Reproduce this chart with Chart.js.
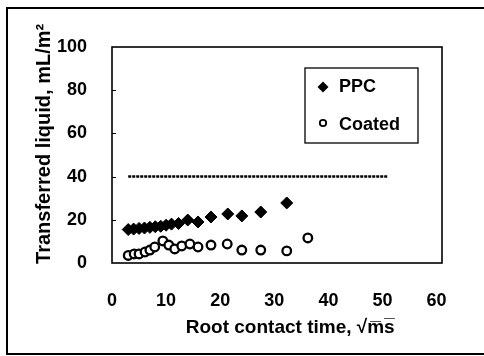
<!DOCTYPE html>
<html><head><meta charset="utf-8">
<script src="https://cdn.jsdelivr.net/npm/chart.js@4.4.0/dist/chart.umd.min.js"></script>
<style>html,body{margin:0;padding:0;background:#fff}#wrap{width:484px;height:356px;position:relative}</style>
</head><body><div id="wrap"><canvas id="c" width="484" height="356"></canvas></div>
<script>
const ppcX = [3.0, 4.0, 5.0, 6.0, 7.0, 8.0, 9.0, 10.0, 11.0, 12.3, 14.0, 15.9, 18.3, 21.4, 24.0, 27.5, 32.3];
const ppcY = [15.5, 15.7, 16.0, 16.2, 16.5, 16.8, 17.0, 17.5, 18.0, 18.3, 19.9, 19.0, 21.3, 22.7, 21.8, 23.6, 27.8];
const coatedX = [3.0, 4.1, 5.0, 6.1, 7.0, 7.9, 9.4, 10.5, 11.6, 12.9, 14.4, 15.9, 18.3, 21.3, 24.0, 27.5, 32.3, 36.2];
const coatedY = [3.5, 4.2, 4.2, 5.1, 6.0, 7.4, 10.2, 8.3, 6.5, 7.9, 8.8, 7.4, 8.3, 8.8, 6.0, 6.0, 5.6, 11.6];
const refLineX = [3, 51];
const refLineY = [40, 40];
const xTicks = [0, 10, 20, 30, 40, 50, 60];
const yTicks = [0, 20, 40, 60, 80, 100];
const seriesNames = ['PPC', 'Coated'];
const xTitle = '     Root contact time, \u221Am\u0305s\u0305';
const yTitle = '    Transferred liquid, mL/m\u00B2';

const FONT = "'Liberation Sans', Arial, Helvetica, sans-serif";
const pts = (xs, ys) => xs.map((x, i) => ({x, y: ys[i]}));

const framePlugin = {
  id: 'frame',
  beforeDraw(chart) {
    const ctx = chart.ctx;
    ctx.save();
    ctx.fillStyle = '#fff';
    ctx.fillRect(0, 0, chart.width, chart.height);
    ctx.strokeStyle = '#000';
    ctx.lineWidth = 2;
    ctx.strokeRect(7, 8, chart.width + 10, chart.height - 10);
    ctx.restore();
  },
  beforeDatasetsDraw(chart) {
    const {ctx, chartArea: a, scales} = chart;
    ctx.save();
    ctx.strokeStyle = '#000';
    ctx.lineWidth = 1.6;
    ctx.strokeRect(a.left, a.top, a.right - a.left, a.bottom - a.top);
    ctx.lineWidth = 1;
    yTicks.forEach(v => {
      if (v === 0 || v === 100) return;
      const y = Math.round(scales.y.getPixelForValue(v)) + 0.5;
      ctx.beginPath(); ctx.moveTo(a.left, y); ctx.lineTo(a.left + 4, y); ctx.stroke();
    });
    ctx.restore();
  },
  afterDraw(chart) {
    const {ctx, chartArea: a} = chart;
    const lx = a.left + 193, ly = a.top + 21, lw = 113, lh = 75;
    ctx.save();
    ctx.strokeStyle = '#000';
    ctx.lineWidth = 1.3;
    ctx.fillStyle = '#fff';
    ctx.fillRect(lx, ly, lw, lh);
    ctx.strokeRect(lx, ly, lw, lh);
    const rows = [ly + 19, ly + 57];
    const mx = lx + 18;
    ctx.fillStyle = '#000';
    ctx.beginPath();
    ctx.moveTo(mx, rows[0] - 5.5); ctx.lineTo(mx + 5.5, rows[0]);
    ctx.lineTo(mx, rows[0] + 5.5); ctx.lineTo(mx - 5.5, rows[0]); ctx.closePath(); ctx.fill();
    ctx.beginPath(); ctx.arc(mx, rows[1] - 2, 3.2, 0, Math.PI * 2);
    ctx.fillStyle = '#fff'; ctx.fill(); ctx.lineWidth = 1.8; ctx.strokeStyle = '#000'; ctx.stroke();
    ctx.fillStyle = '#000';
    ctx.font = 'bold 18px ' + FONT;
    ctx.textBaseline = 'middle';
    ctx.textAlign = 'left';
    ctx.fillText(seriesNames[0], lx + 34, rows[0]);
    ctx.fillText(seriesNames[1], lx + 34, rows[1]);
    ctx.restore();
  }
};

new Chart(document.getElementById('c'), {
  type: 'scatter',
  data: {
    datasets: [
      {
        type: 'line', label: 'ref', data: pts(refLineX, refLineY),
        borderColor: '#000', borderWidth: 2.5, borderDash: [3, 1], pointRadius: 0, fill: false
      },
      {
        label: seriesNames[1], data: pts(coatedX, coatedY),
        pointStyle: 'circle', pointRadius: 4.3, backgroundColor: '#fff', borderColor: '#000', borderWidth: 2.3
      },
      {
        label: seriesNames[0], data: pts(ppcX, ppcY),
        pointStyle: 'rectRot', pointRadius: 6, backgroundColor: '#000', borderColor: '#000', borderWidth: 1
      }
    ]
  },
  options: {
    responsive: false,
    animation: false,
    devicePixelRatio: 1,
    layout: {padding: {top: 47, right: 42, left: 0, bottom: 0}},
    plugins: {legend: {display: false}, tooltip: {enabled: false}},
    scales: {
      x: {
        type: 'linear', min: 0, max: 61,
        afterBuildTicks(s) { s.ticks = xTicks.map(v => ({value: v})); },
        afterFit(s) { s.height = 93; },
        grid: {display: false}, border: {display: false},
        ticks: {color: '#000', padding: 19, maxRotation: 0, font: {family: FONT, size: 18, weight: 'bold'}},
        title: {display: true, text: xTitle, color: '#000', padding: {top: 0, bottom: 17}, font: {family: FONT, size: 19, weight: 'bold'}}
      },
      y: {
        type: 'linear', min: 0, max: 100,
        afterBuildTicks(s) { s.ticks = yTicks.map(v => ({value: v})); },
        afterFit(s) { s.width = 112; },
        grid: {display: false}, border: {display: false},
        ticks: {color: '#000', padding: 17, font: {family: FONT, size: 18, weight: 'bold'}},
        title: {display: true, text: yTitle, color: '#000', padding: {top: 32, bottom: 0}, font: {family: FONT, size: 20, weight: 'bold'}}
      }
    }
  },
  plugins: [framePlugin]
});
</script>
</body></html>
